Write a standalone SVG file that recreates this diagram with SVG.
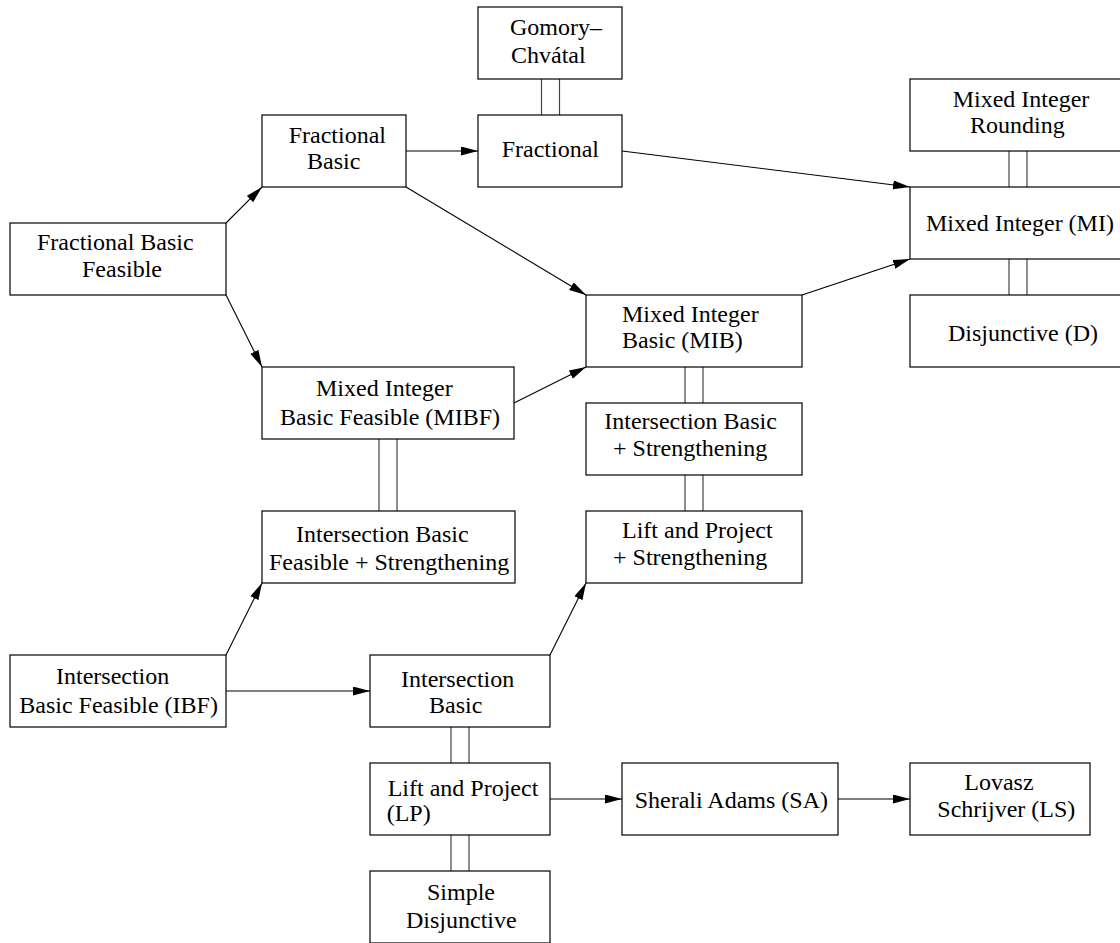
<svg xmlns="http://www.w3.org/2000/svg" width="1120" height="943" viewBox="0 0 1120 943" font-family="'Liberation Serif', Tinos, 'Times New Roman', Times, 'Nimbus Roman', 'DejaVu Serif', serif">
<style>
  .box { fill: #ffffff; stroke: #000000; stroke-width: 1.2; }
  .lbl { font-family: "Liberation Serif", Tinos, "Times New Roman", Times, "Nimbus Roman", "DejaVu Serif", serif; font-size: 24px; fill: #000000; }
  .arr { stroke: #000000; stroke-width: 1.1; fill: none; marker-end: url(#ah); }
  .eq { stroke: #444444; stroke-width: 1.2; fill: none; }
</style>
<defs>
  <marker id="ah" markerUnits="userSpaceOnUse" markerWidth="20" markerHeight="10" refX="17" refY="4.5" orient="auto">
    <path d="M0,0 L17,4.5 L0,9 z" fill="#000000"/>
  </marker>
</defs>
<rect x="0" y="0" width="1120" height="943" fill="#ffffff"/>

<g id="connectors">
  <line class="arr" x1="226" y1="223" x2="262" y2="187"/>
  <line class="arr" x1="226" y1="295" x2="262" y2="367"/>
  <line class="arr" x1="406" y1="151" x2="478" y2="151"/>
  <line class="arr" x1="406" y1="187" x2="586" y2="295"/>
  <line class="arr" x1="622" y1="151" x2="910" y2="187"/>
  <line class="arr" x1="514" y1="403" x2="586" y2="367"/>
  <line class="arr" x1="802" y1="295" x2="910" y2="259"/>
  <line class="arr" x1="226" y1="655" x2="262" y2="583"/>
  <line class="arr" x1="226" y1="691" x2="370" y2="691"/>
  <line class="arr" x1="550" y1="655" x2="586" y2="583"/>
  <line class="arr" x1="550" y1="799" x2="622" y2="799"/>
  <line class="arr" x1="838" y1="799" x2="910" y2="799"/>
  <path class="eq" d="M541.5,79 V115 M559.5,79 V115"/>
  <path class="eq" d="M1009,151 V187 M1027,151 V187"/>
  <path class="eq" d="M1009,259 V295 M1027,259 V295"/>
  <path class="eq" d="M685,367 V403 M703,367 V403"/>
  <path class="eq" d="M685,475 V511 M703,475 V511"/>
  <path class="eq" d="M379,439 V511 M397,439 V511"/>
  <path class="eq" d="M451,727 V763 M469,727 V763"/>
  <path class="eq" d="M451,835 V871 M469,835 V871"/>
</g>

<g id="gomory-chvatal">
  <rect class="box" x="478" y="7" width="144" height="72"/>
  <text class="lbl" x="510" y="35">Gomory–</text>
  <text class="lbl" x="511" y="62.7">Chvátal</text>
</g>
<g id="fractional">
  <rect class="box" x="478" y="115" width="144" height="72"/>
  <text class="lbl" x="501.7" y="157">Fractional</text>
</g>
<g id="fractional-basic">
  <rect class="box" x="262" y="115" width="144" height="72"/>
  <text class="lbl" x="288.7" y="142.7">Fractional</text>
  <text class="lbl" x="307" y="169">Basic</text>
</g>
<g id="fractional-basic-feasible">
  <rect class="box" x="10" y="223" width="216" height="72"/>
  <text class="lbl" x="37" y="250">Fractional Basic</text>
  <text class="lbl" x="82" y="277">Feasible</text>
</g>
<g id="mixed-integer-rounding">
  <rect class="box" x="910" y="79" width="216" height="72"/>
  <text class="lbl" x="952.7" y="106.7">Mixed Integer</text>
  <text class="lbl" x="970" y="133">Rounding</text>
</g>
<g id="mixed-integer">
  <rect class="box" x="910" y="187" width="216" height="72"/>
  <text class="lbl" x="926" y="230.7">Mixed Integer (MI)</text>
</g>
<g id="disjunctive">
  <rect class="box" x="910" y="295" width="216" height="72"/>
  <text class="lbl" x="948" y="340.7">Disjunctive (D)</text>
</g>
<g id="mixed-integer-basic">
  <rect class="box" x="586" y="295" width="216" height="72"/>
  <text class="lbl" x="622" y="321.7">Mixed Integer</text>
  <text class="lbl" x="622" y="348.3">Basic (MIB)</text>
</g>
<g id="mixed-integer-basic-feasible">
  <rect class="box" x="262" y="367" width="252" height="72"/>
  <text class="lbl" x="316" y="395.7">Mixed Integer</text>
  <text class="lbl" x="280" y="425">Basic Feasible (MIBF)</text>
</g>
<g id="intersection-basic-strengthening">
  <rect class="box" x="586" y="403" width="216" height="72"/>
  <text class="lbl" x="604.3" y="429">Intersection Basic</text>
  <text class="lbl" x="613" y="455.7">+ Strengthening</text>
</g>
<g id="lift-project-strengthening">
  <rect class="box" x="586" y="511" width="216" height="72"/>
  <text class="lbl" x="622" y="537.7">Lift and Project</text>
  <text class="lbl" x="613" y="565">+ Strengthening</text>
</g>
<g id="intersection-basic-feasible-strengthening">
  <rect class="box" x="262" y="511" width="253" height="72"/>
  <text class="lbl" x="296" y="541.7">Intersection Basic</text>
  <text class="lbl" x="269" y="570">Feasible + Strengthening</text>
</g>
<g id="intersection-basic-feasible">
  <rect class="box" x="10" y="655" width="216" height="72"/>
  <text class="lbl" x="56" y="684">Intersection</text>
  <text class="lbl" x="19.3" y="713.3">Basic Feasible (IBF)</text>
</g>
<g id="intersection-basic">
  <rect class="box" x="370" y="655" width="180" height="72"/>
  <text class="lbl" x="401" y="686.7">Intersection</text>
  <text class="lbl" x="429" y="713.3">Basic</text>
</g>
<g id="lift-and-project">
  <rect class="box" x="370" y="763" width="180" height="72"/>
  <text class="lbl" x="387.7" y="795.7">Lift and Project</text>
  <text class="lbl" x="386.7" y="820.7">(LP)</text>
</g>
<g id="sherali-adams">
  <rect class="box" x="622" y="763" width="216" height="72"/>
  <text class="lbl" x="634.7" y="808.3">Sherali Adams (SA)</text>
</g>
<g id="lovasz-schrijver">
  <rect class="box" x="910" y="763" width="180" height="72"/>
  <text class="lbl" x="964.3" y="790">Lovasz</text>
  <text class="lbl" x="937.3" y="817.3">Schrijver (LS)</text>
</g>
<g id="simple-disjunctive">
  <rect class="box" x="370" y="871" width="180" height="72"/>
  <text class="lbl" x="427" y="900">Simple</text>
  <text class="lbl" x="406" y="928.3">Disjunctive</text>
</g>
</svg>
